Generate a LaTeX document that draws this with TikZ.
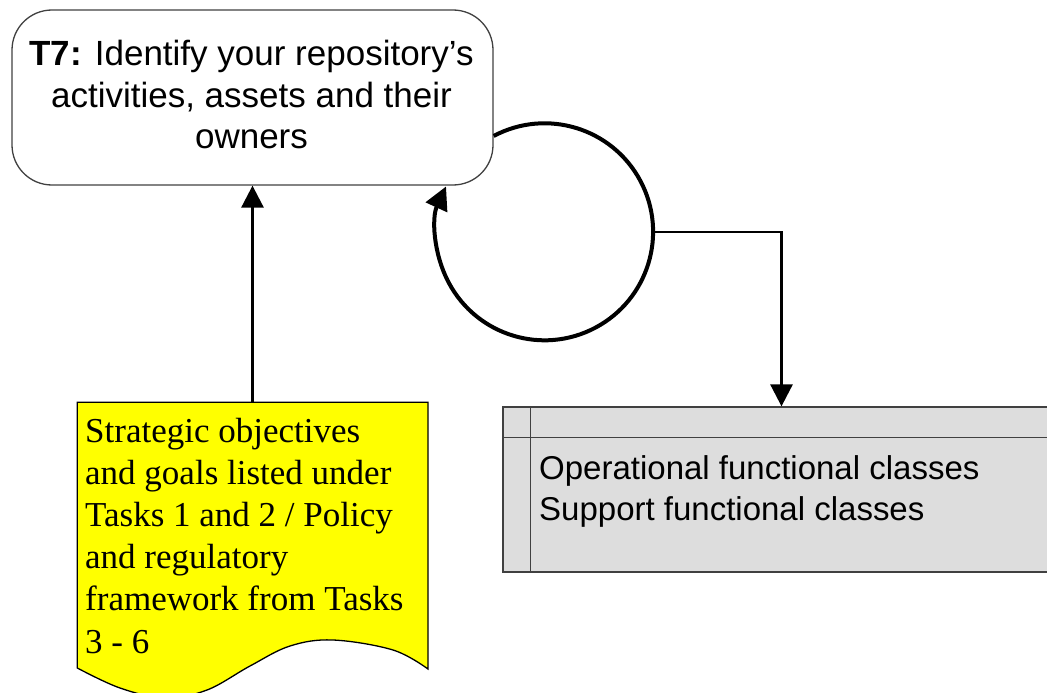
\documentclass[tikz,border=0pt]{standalone}
\usepackage{fontspec}
\setmainfont{Liberation Serif}
\newfontfamily\arialfont{Liberation Sans}
\usetikzlibrary{arrows.meta,calc}
\definecolor{docyellow}{HTML}{FFFF00}
\definecolor{classgray}{HTML}{DDDDDD}
\definecolor{edgegray}{HTML}{404040}

\begin{document}
\begin{tikzpicture}[x=1pt,y=-1pt,
  taskbox/.style={draw=edgegray, line width=1.3pt, rounded corners=40pt,
    minimum width=481pt, minimum height=175pt, inner sep=0pt},
  tasktext/.style={font=\arialfont\fontsize{35}{41}\selectfont, anchor=base, inner sep=0pt},
  doctext/.style={font=\fontsize{35}{42}\selectfont, anchor=base west, inner sep=0pt},
  classbox/.style={draw=edgegray, fill=classgray, line width=1.3pt,
    minimum width=557pt, minimum height=165pt, inner sep=0pt},
  classtext/.style={font=\arialfont\fontsize{33}{40}\selectfont, anchor=base west, inner sep=0pt},
  divider/.style={draw=edgegray, line width=1.3pt},
  conn/.style={line width=2.8pt, -{Triangle[width=22pt,length=22pt]}},
  loopconn/.style={line width=4pt, -{Triangle[width=23pt,length=23pt]}},
]
\useasboundingbox (0,0) rectangle (1047,693);
\clip (0,0) rectangle (1047,693);

% task box
\node[taskbox] (t7) at (252.5,97.5) {};
\node[tasktext] (t7a) at (251.5,65.7) {\textbf{T7:} Identify your repository’s};
\node[tasktext] (t7b) at (251.5,107) {activities, assets and their};
\node[tasktext] (t7c) at (251.5,148.3) {owners};

% input document with wavy bottom edge
\path[draw=black, line width=1.3pt, fill=docyellow]
  (77.3,402.3) -- (428,402.3) -- (428,669)
  -- plot[smooth, tension=0.6] coordinates {(428,669) (393,650) (333,640) (290,646) (250,666) (207,690) (165,698) (120,688) (77.3,668)}
  -- cycle;
\coordinate (doctop) at (252.5,402.3);
\node[doctext] (d1) at (85,442) {Strategic objectives};
\node[doctext] (d2) at (85,484.2) {and goals listed under};
\node[doctext] (d3) at (85,526.4) {Tasks 1 and 2 / Policy};
\node[doctext] (d4) at (85,568.6) {and regulatory};
\node[doctext] (d5) at (85,610.8) {framework from Tasks};
\node[doctext] (d6) at (85,653) {3 - 6};

% classes table
\node[classbox] (cls) at (781.5,489.5) {};
\draw[divider] ($(cls.north west)+(28,0)$) -- ($(cls.south west)+(28,0)$);
\draw[divider] ($(cls.north west)+(0,31)$) -- ($(cls.north east)+(0,31)$);
\node[classtext] (c1) at (539,479) {Operational functional classes};
\node[classtext] (c2) at (539,520) {Support functional classes};

% connectors
\draw[conn] (doctop) -- (t7.south);
\draw[loopconn] ($(t7.east)+(0,38.5)$) arc[start angle=-118, end angle=204.7, radius=108.5];
\coordinate (loopE) at (652.4,232);
\draw[conn] (loopE) -| (cls.north);
\end{tikzpicture}
\end{document}
